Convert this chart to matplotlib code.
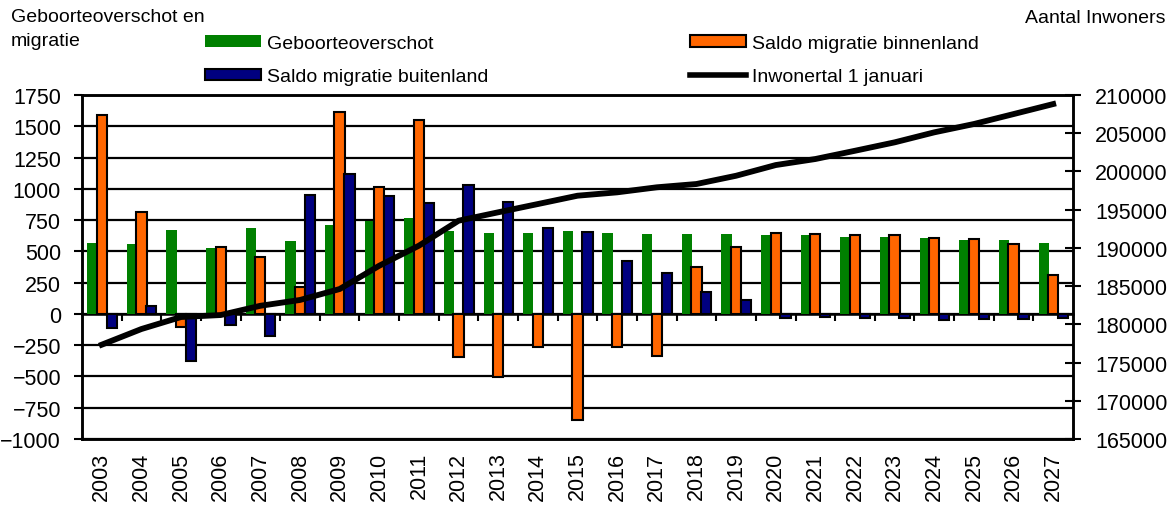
import matplotlib
matplotlib.use('Agg')

import numpy as np
import matplotlib.pyplot as plt
from matplotlib.patches import Patch
from matplotlib.lines import Line2D

plt.rcParams['font.family'] = ['Liberation Sans', 'DejaVu Sans']

# Data
jaren = [str(j) for j in range(2003, 2028)]
geboorteoverschot = [567, 559, 671, 527, 684, 580, 713, 745, 764, 665, 647, 647, 660,
                     647, 636, 636, 636, 631, 631, 615, 615, 604, 588, 588, 567]
saldo_binnenland = [1593, 817, -107, 532, 457, 212, 1612, 1012, 1553, -347, -504, -267, -846,
                    -267, -334, 377, 537, 645, 639, 633, 633, 607, 599, 559, 311]
saldo_buitenland = [-115, 66, -374, -89, -174, 953, 1118, 945, 887, 1033, 897, 686, 657,
                    420, 327, 173, 114, -35, -27, -35, -35, -46, -40, -40, -35]
inwonertal = [177340, 179390, 180960, 181220, 182430, 183190, 184620, 187670, 190290,
              193560, 194660, 195740, 196830, 197270, 197930, 198360, 199440, 200840,
              201630, 202710, 203810, 205120, 206210, 207510, 208820]

groen = '#008000'
oranje = '#FF6600'
blauw = '#000080'

x = np.arange(len(jaren))
breedte = 0.26

fig = plt.figure(figsize=(11.69, 5.06), dpi=100)
ax = fig.add_axes([0.0701, 0.1304, 0.8478, 0.6798])
ax2 = ax.twinx()

# staven
ax.bar(x - 0.24, geboorteoverschot, breedte, color=groen, linewidth=0, zorder=2)
ax.bar(x, saldo_binnenland, breedte, color=oranje, edgecolor='black', linewidth=1.5, zorder=3)
ax.bar(x + 0.25, saldo_buitenland, breedte, color=blauw, edgecolor='black', linewidth=1.5, zorder=4)

ax.set_xlim(-0.5, len(jaren) - 0.5)
ax.set_ylim(-1000, 1750)
ax.set_yticks(np.arange(-1000, 1751, 250))
ax.yaxis.grid(True, color='black', linewidth=1.6)
ax.set_axisbelow(True)
ax.tick_params(axis='y', direction='out', length=6, width=1.5, pad=9, labelsize=15.5)

ax.set_xticks(x)
ax.set_xticklabels(jaren, rotation=90)
ax.tick_params(axis='x', length=0, pad=9, labelsize=15.5)

for s in ['left', 'right', 'top', 'bottom']:
    ax.spines[s].set_linewidth(1.8)
    ax2.spines[s].set_linewidth(1.8)

# korte streepjes op de nullijn tussen de jaren
nul = ax.secondary_xaxis(1000 / 2750)
nul.set_xticks(x[:-1] + 0.5)
nul.set_xticklabels([])
nul.tick_params(axis='x', direction='out', length=5, width=1.5)
nul.spines['bottom'].set_linewidth(1.8)

# lijn inwonertal
ax2.plot(x, inwonertal, color='black', linewidth=4.2, zorder=5)
ax2.set_ylim(165000, 210000)
ax2.set_yticks(np.arange(165000, 210001, 5000))
ax2.tick_params(axis='y', direction='inout', length=12, width=1.5, pad=10, labelsize=15.5)

fig.text(0.009, 0.982, 'Geboorteoverschot en\nmigratie', fontsize=14, va='top', ha='left',
         linespacing=1.55)
fig.text(0.997, 0.98, 'Aantal Inwoners', fontsize=14, va='top', ha='right')

leg_kw = dict(loc='upper left', frameon=False, fontsize=14, borderpad=0, borderaxespad=0,
              handlelength=2.9, handleheight=0.55, handletextpad=0.3, labelspacing=0.84)
fig.legend(handles=[Patch(facecolor=groen, edgecolor='none'),
                    Patch(facecolor=blauw, edgecolor='black', linewidth=1.5)],
           labels=['Geboorteoverschot', 'Saldo migratie buitenland'],
           bbox_to_anchor=(0.1754, 0.929), **leg_kw)
fig.legend(handles=[Patch(facecolor=oranje, edgecolor='black', linewidth=1.5),
                    Line2D([], [], color='black', linewidth=4)],
           labels=['Saldo migratie binnenland', 'Inwonertal 1 januari'],
           bbox_to_anchor=(0.5903, 0.929), **leg_kw)

fig.savefig('out.png', dpi=100)
